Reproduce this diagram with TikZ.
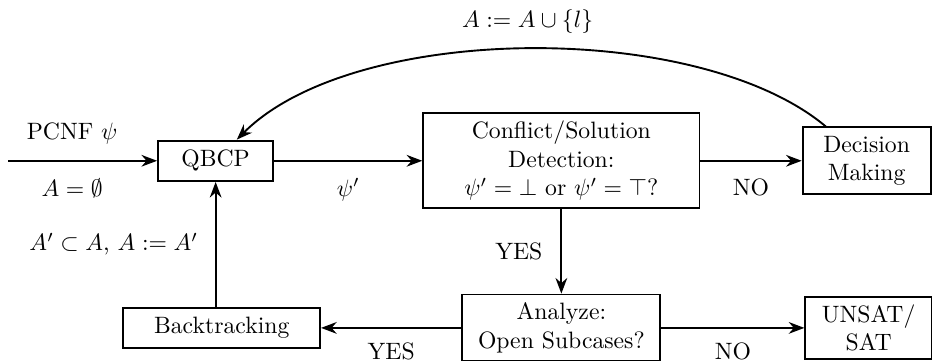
\documentclass[tikz,border=0pt]{standalone}
\usepackage{amsmath}
\usepackage{amssymb}
\usepackage{tikz}
\usetikzlibrary{arrows.meta, positioning}

\begin{document}
\begin{tikzpicture}[block/.style={draw, thick, align=center, minimum height=0.6cm},
                    flow/.style={-{Stealth}, thick}]
            \useasboundingbox (0,0) rectangle (13.83,5.356);
            \node[block, minimum width=1.71cm] (qbcp) at (3.20,2.97) {QBCP};
            \node[block, minimum width=4.10cm, minimum height=1.41cm] (detect) at (8.33,2.97) {
                Conflict/Solution\\
                Detection:\\$\psi' = \bot$ or $\psi' = \top$?
            };
            \node[block, minimum width=1.90cm, minimum height=0.99cm] (decide) at (12.86,2.97) {Decision\\Making};
            \node[block, minimum width=2.94cm, minimum height=0.99cm] (analyze) at (8.33,0.49) {Analyze:\\Open Subcases?};
            \node[block, minimum width=1.88cm, minimum height=0.90cm] (result) at (12.89,0.49) {UNSAT/\\SAT};
            \node[block, minimum width=2.92cm] (backtrack) at (3.29,0.49) {Backtracking};
            \coordinate (start) at (0.12,2.97);
            \draw[flow] (start) -- node[pos=0.43, above=1.2mm] {PCNF $\psi$} node[pos=0.43, below=1.3mm] {$A = \emptyset$} (qbcp);
            \draw[flow] (qbcp) -- node[below=1.3mm] {$\psi'$} (detect);
            \draw[flow] (detect) -- node[below=1.3mm] {NO} (decide);
            \draw[flow] (decide) to[out=140, in=45, looseness=0.72] node[above=1.0mm] {$A := A \cup \{l\}$} (qbcp);
            \draw[flow] (detect) -- node[left=1.5mm] {YES} (analyze);
            \draw[flow] (analyze) -- node[below=0.9mm] {YES} (backtrack);
            \draw[flow] (analyze) -- node[below=0.9mm] {NO} (result);
            \draw[flow] (backtrack.north -| qbcp.south) -- node[left=1.3mm] {$A' \subset A$, $A := A'$} (qbcp.south);
        \end{tikzpicture}
\end{document}
